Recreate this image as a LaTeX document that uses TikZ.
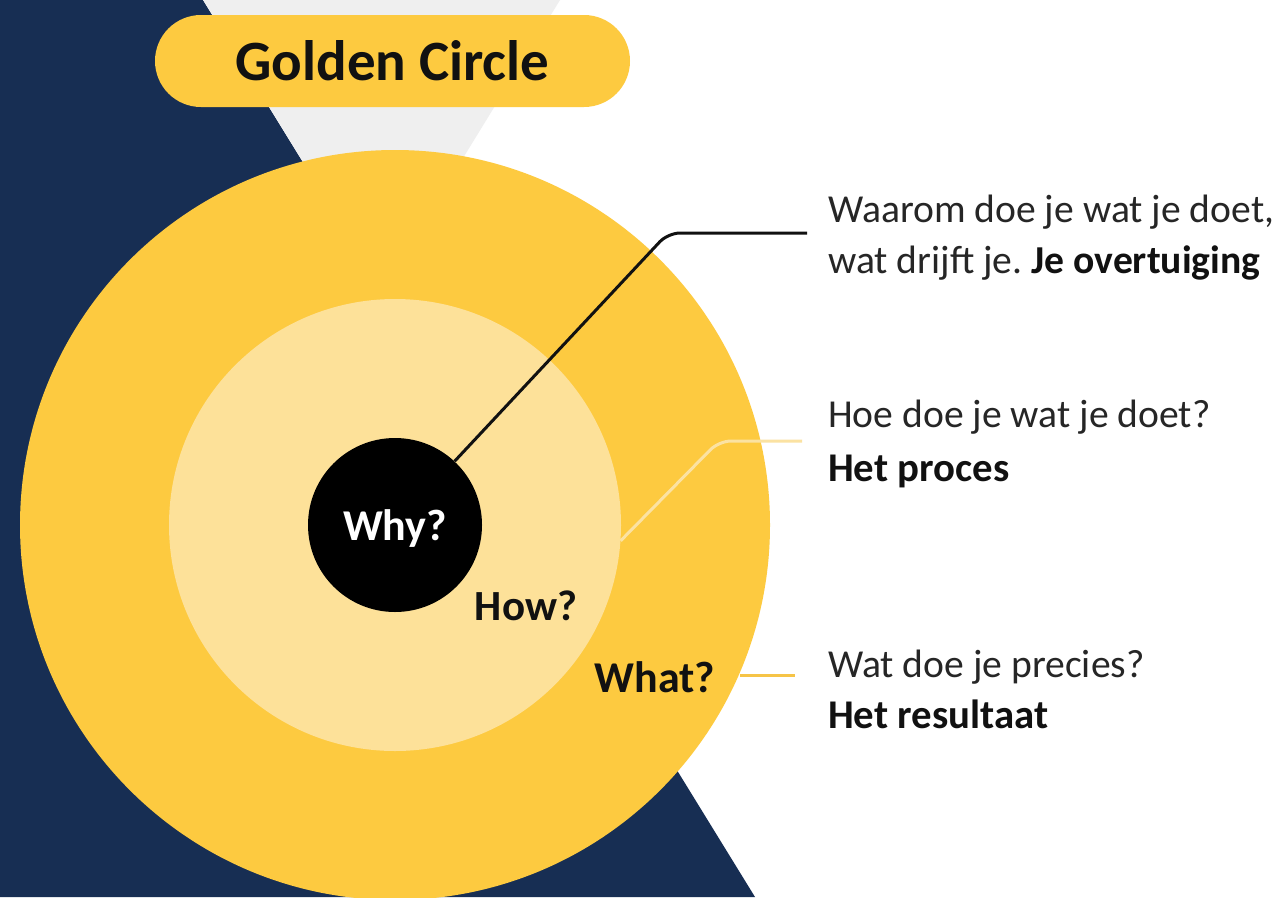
\documentclass[tikz,border=0pt]{standalone}
\usepackage{fontspec}
\setmainfont{Carlito}
\frenchspacing
\definecolor{navy}{HTML}{172E53}
\definecolor{funnel}{HTML}{EFEFEF}
\definecolor{gold}{HTML}{FDCA40}
\definecolor{pale}{HTML}{FDE199}
\definecolor{howline}{HTML}{FBE2A2}
\definecolor{whatline}{HTML}{F6C447}
\definecolor{ink}{HTML}{111111}
\definecolor{bodyink}{HTML}{262626}
\tikzset{
  ring/.style={circle, inner sep=0pt, draw=none},
  qlabel/.style={anchor=base, inner sep=0pt, font=\fontsize{44}{50}\selectfont\bfseries},
  desc/.style={anchor=base west, inner sep=0pt, text=bodyink, font=\fontsize{39.6}{51}\selectfont},
  descbold/.style={desc, text=ink, font=\fontsize{40.8}{51}\selectfont\bfseries},
  leader/.style={line width=3pt, rounded corners=12pt}
}
\begin{document}
\begin{tikzpicture}[x=1pt,y=-1pt]
\useasboundingbox (0,0) rectangle (1276,897);
\fill[white] (0,0) rectangle (1276,897);
% backgrounds
\fill[navy] (0,0) -- (203,0) -- (755,897) -- (0,897) -- cycle;
\fill[funnel] (203,0) -- (560,0) -- (382,290) -- cycle;
% title
\node (title) [fill=gold, rounded corners=46pt, minimum width=475pt, minimum height=92pt, inner sep=0pt,
  font=\fontsize{57}{60}\selectfont\bfseries, text=ink] at (392.5,61) {Golden Circle};
% circles
\node (outer) [ring, fill=gold, minimum size=750pt] at (395,525) {};
\node (inner) [ring, fill=pale, minimum size=452pt] at (395,525) {};
\node (why) [ring, fill=black, minimum size=174pt] at (395,525) {};
% circle labels
\node (whytxt) [qlabel, text=white] at (395,540) {Why?};
\node (howtxt) [qlabel, text=ink, font=\fontsize{43}{50}\selectfont\bfseries] at (526,620) {How?};
\node (whattxt) [qlabel, text=ink] at (655,692) {What?};
% leader coordinates
\coordinate (whybend) at (668,233);
\coordinate (whyend) at (807,233);
\coordinate (howbend) at (719,441);
\coordinate (howend) at (802,441);
\coordinate (whatend) at (795,675);
% leaders
\draw[leader, ink] (why) -- (whybend) -- (whyend);
\draw[leader, howline] (inner.-4) -- (howbend) -- (howend);
\draw[leader, whatline] (outer.-23.6 |- whatend) -- (whatend);
% descriptions
\node (d1a) [desc] at (828,222) {Waarom doe je wat je doet,};
\node (d1b) [desc] at (828,273) {wat drijft je. \textcolor{ink}{\bfseries Je overtuiging}};
\node (d2a) [desc] at (828,427) {Hoe doe je wat je doet?};
\node (d2b) [descbold] at (828,481) {Het proces};
\node (d3a) [desc] at (828,677) {Wat doe je precies?};
\node (d3b) [descbold] at (828,728) {Het resultaat};
\end{tikzpicture}
\end{document}
